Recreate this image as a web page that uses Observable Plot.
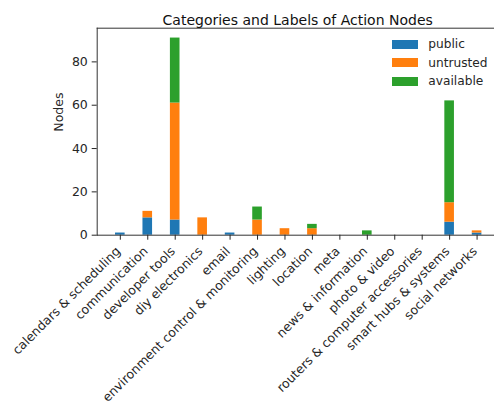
<!DOCTYPE html>
<html><head><meta charset="utf-8">
<script src="https://cdn.jsdelivr.net/npm/d3@7"></script>
<script src="https://cdn.jsdelivr.net/npm/@observablehq/plot@0.6"></script>
<style>
body{margin:0;background:#fff;}
#wrap{position:relative;width:494px;height:405px;overflow:hidden;}
#wrap svg{display:block;}
.legend{position:absolute;left:391.7px;top:34.7px;font:12.2px "DejaVu Sans";color:#262626;}
.row{display:flex;align-items:center;height:18.7px;white-space:nowrap;}
.sw{width:26px;height:9px;margin-right:10.6px;flex:none;}
</style></head><body><div id="wrap"></div>
<script>
const title = "Categories and Labels of Action Nodes";
const yLabel = "Nodes";
const categories = ["calendars & scheduling","communication","developer tools","diy electronics","email","environment control & monitoring","lighting","location","meta","news & information","photo & video","routers & computer accessories","smart hubs & systems","social networks"];
const seriesNames = ["public","untrusted","available"];
const publicVals    = [1, 8, 7, 0, 1, 0, 0, 0, 0, 0, 0, 0, 6, 1];
const untrustedVals = [0, 3, 54, 8, 0, 7, 3, 3, 0, 0, 0, 0, 9, 1];
const availableVals = [0, 0, 30, 0, 0, 6, 0, 2, 0, 2, 0, 0, 47, 0];
const colors = ["#1f77b4", "#ff7f0e", "#2ca02c"];
const yTicks = [0, 20, 40, 60, 80];

const seriesVals = [publicVals, untrustedVals, availableVals];
const data = [];
categories.forEach((c, i) => {
  seriesNames.forEach((s, j) => data.push({category: c, series: s, value: seriesVals[j][i]}));
});
const yMax = d3.max(categories.map((c, i) => publicVals[i] + untrustedVals[i] + availableVals[i])) * 1.05;

const ink = "#262626";
const plot = Plot.plot({
  width: 494, height: 405,
  marginLeft: 96.7, marginRight: 0, marginTop: 27.7, marginBottom: 170.3,
  style: {fontFamily: "DejaVu Sans", fontSize: "12.5px", color: ink, background: "white", overflow: "hidden"},
  x: {type: "band", domain: categories, range: [96.7, 499.7], paddingInner: 0.65, paddingOuter: 0.6675, align: 0.5, round: false},
  y: {domain: [0, yMax]},
  color: {domain: seriesNames, range: colors},
  marks: [
    Plot.barY(data, {x: "category", y: "value", fill: "series"}),
    Plot.frame({anchor: "left", stroke: "#333", strokeWidth: 1}),
    Plot.frame({anchor: "top", stroke: "#333", strokeWidth: 1}),
    Plot.frame({anchor: "bottom", stroke: "#333", strokeWidth: 1}),
    Plot.axisY({ticks: yTicks, tickSize: 5, tickPadding: 4.4, label: null, fontSize: 12.5}),
    Plot.axisX({tickSize: 5, tickFormat: () => "", label: null}),
    Plot.text(categories, {x: d => d, frameAnchor: "bottom", rotate: -45, textAnchor: "end", lineAnchor: "top", dy: 10.5, dx: -5.5, fontSize: 12.5, fill: ink}),
    Plot.text([yLabel], {frameAnchor: "left", rotate: -90, dx: -37.7, fontSize: 12.5, fill: ink}),
    Plot.text([title], {frameAnchor: "top", dy: -12.9, dx: 1.85, fontSize: 14, fontFamily: "DejaVu Sans", fill: "#111"})
  ]
});
const wrap = document.getElementById("wrap");
wrap.appendChild(plot);
const legend = document.createElement("div");
legend.className = "legend";
seriesNames.forEach((s, j) => {
  const row = document.createElement("div");
  row.className = "row";
  const sw = document.createElement("span");
  sw.className = "sw";
  sw.style.background = colors[j];
  const t = document.createElement("span");
  t.textContent = s;
  row.appendChild(sw); row.appendChild(t);
  legend.appendChild(row);
});
wrap.appendChild(legend);
</script></body></html>
